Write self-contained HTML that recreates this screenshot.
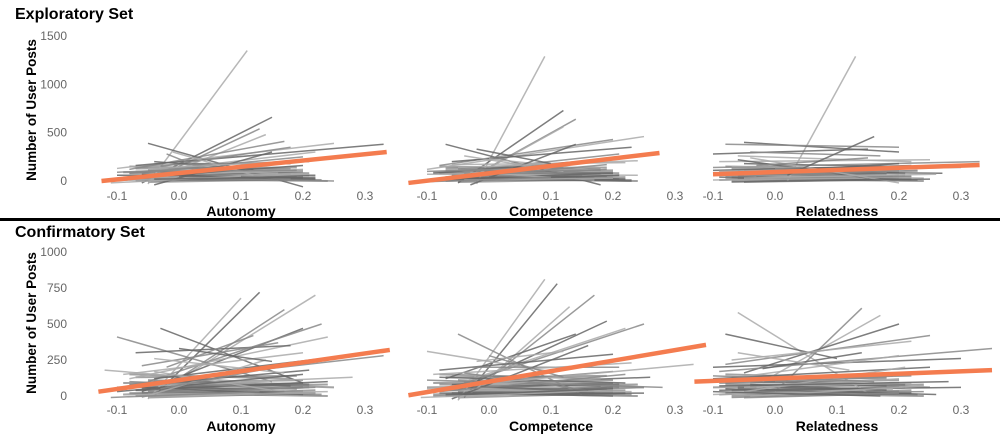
<!DOCTYPE html>
<html><head><meta charset="utf-8"><style>
body{margin:0;background:#fff;}
svg{display:block;font-family:"Liberation Sans",sans-serif;}
.tick{font-size:12px;fill:#666;text-anchor:middle;}
.ttl{font-size:14px;font-weight:bold;fill:#000;text-anchor:middle;}
.set{font-size:16px;font-weight:bold;fill:#000;}
.ytl{font-size:13.5px;font-weight:bold;fill:#000;text-anchor:middle;}
</style></head><body>
<svg id="chart" width="1000" height="440">
<text class="set" x="15" y="19">Exploratory Set</text>
<text class="set" x="15" y="237">Confirmatory Set</text>
<rect x="0" y="218" width="1000" height="3" fill="#000"></rect>
<text class="ytl" transform="translate(36,110) rotate(-90)">Number of User Posts</text>
<text class="ytl" transform="translate(36,323) rotate(-90)">Number of User Posts</text>
<g id="marks"></g>
</svg>
<script>
const xTicks=[-0.1,0.0,0.1,0.2,0.3];
const xTickLabels=["-0.1","0.0","0.1","0.2","0.3"];
const topYTicks=[0,500,1000,1500];
const botYTicks=[0,250,500,750,1000];
const panelTitles=["Autonomy","Competence","Relatedness"];
const fitTop=[[-0.125,0,0.335,300],[-0.13,-20,0.275,290],[-0.1,70,0.33,165]];
const fitBot=[[-0.13,30,0.34,320],[-0.13,5,0.35,355],[-0.13,100,0.35,180]];
const segTop1=[[-0.05,-30,0.11,1350],[-0.06,-20,0.15,660],[-0.05,0,0.13,540],[-0.04,20,0.14,480],[-0.05,390,0.2,-60],[-0.08,120,0.17,410],[-0.1,130,0.25,390],[-0.07,160,0.33,380],[-0.03,150,0.18,350],[-0.05,100,0.22,300],[0,180,0.18,180],[-0.08,80,0.2,250],[-0.06,50,0.2,120],[-0.1,60,0.22,60],[-0.09,40,0.25,0],[-0.05,120,0.16,80],[-0.04,200,0.12,120],[-0.02,280,0.05,100],[-0.07,30,0.2,80],[-0.06,70,0.15,40],[-0.03,90,0.18,20],[-0.08,10,0.21,70],[-0.02,60,0.2,160],[-0.06,160,0.21,200],[-0.01,300,0.12,60],[-0.04,-40,0.15,300],[-0.1,90,0.1,150],[-0.05,130,0.23,220],[0,50,0.22,30],[-0.07,100,0.19,110],[-0.11,-20,0.1,50],[-0.04,20,0.2,40]];
const segTop2=[[-0.02,-30,0.09,1290],[-0.05,-20,0.12,730],[-0.04,0,0.14,640],[-0.03,30,0.12,560],[-0.07,380,0.18,-40],[-0.08,160,0.2,430],[-0.1,120,0.25,460],[-0.06,200,0.23,350],[-0.05,100,0.21,280],[0,230,0.16,120],[-0.09,80,0.2,230],[-0.06,40,0.19,120],[-0.1,70,0.24,60],[-0.08,30,0.23,0],[-0.05,130,0.15,60],[-0.04,260,0.12,100],[-0.07,20,0.2,80],[-0.06,60,0.14,30],[-0.03,90,0.17,10],[-0.09,0,0.21,60],[-0.02,50,0.19,170],[-0.06,170,0.22,190],[-0.03,-40,0.14,380],[-0.1,100,0.12,140],[-0.05,140,0.24,210],[0,40,0.21,20],[-0.07,110,0.18,110],[-0.04,10,0.2,30],[-0.02,330,0.1,180],[-0.11,-10,0.1,40]];
const segTop3=[[0.02,0,0.13,1290],[-0.05,400,0.2,300],[-0.08,380,0.2,350],[-0.06,260,0.22,200],[-0.1,280,0.15,330],[-0.04,300,0.17,260],[-0.09,200,0.25,220],[-0.05,180,0.2,150],[-0.1,140,0.33,200],[-0.07,120,0.23,100],[-0.06,100,0.27,80],[-0.08,80,0.2,60],[-0.05,60,0.24,30],[-0.09,40,0.18,10],[-0.04,20,0.22,50],[-0.1,10,0.15,30],[-0.06,220,0.16,20],[-0.03,70,0.21,140],[-0.07,150,0.19,120],[-0.02,90,0.2,180],[-0.08,50,0.23,110],[-0.05,30,0.26,70],[-0.1,110,0.22,160],[0,130,0.18,90],[-0.04,240,0.2,-20],[-0.07,-10,0.25,20],[-0.03,160,0.15,240],[-0.09,100,0.3,140],[0.02,60,0.16,460]];
const segBot1=[[-0.05,-20,0.1,680],[-0.04,0,0.13,720],[-0.03,40,0.17,600],[-0.02,60,0.22,700],[-0.06,30,0.2,470],[-0.05,100,0.23,500],[-0.08,120,0.24,410],[-0.03,470,0.2,90],[-0.1,410,0.15,100],[-0.12,180,0.1,100],[-0.07,300,0.18,350],[-0.06,210,0.16,370],[-0.09,150,0.2,300],[-0.04,120,0.25,270],[-0.08,80,0.33,280],[-0.1,60,0.28,130],[-0.07,40,0.24,100],[-0.05,20,0.22,60],[-0.09,10,0.24,30],[-0.06,60,0.2,10],[-0.08,100,0.19,50],[-0.04,170,0.15,40],[-0.1,30,0.2,150],[-0.02,200,0.12,420],[-0.06,-10,0.14,250],[-0.05,80,0.21,180],[-0.03,50,0.18,220],[-0.07,0,0.22,20],[0,330,0.15,240],[-0.11,-10,0.13,30],[-0.04,260,0.17,160]];
const segBot2=[[-0.05,-30,0.09,810],[-0.04,-10,0.11,780],[-0.03,20,0.17,700],[-0.02,50,0.13,620],[-0.05,40,0.19,520],[-0.06,60,0.25,500],[-0.04,100,0.22,470],[-0.07,120,0.14,430],[-0.05,430,0.15,10],[-0.1,310,0.1,170],[-0.08,180,0.2,290],[-0.03,200,0.21,200],[-0.09,150,0.23,230],[-0.06,80,0.26,130],[-0.1,110,0.28,60],[-0.07,40,0.23,30],[-0.05,20,0.2,0],[-0.09,0,0.25,60],[-0.06,70,0.18,120],[-0.08,130,0.22,90],[-0.04,160,0.16,40],[-0.02,240,0.12,310],[-0.06,-20,0.16,350],[-0.03,90,0.2,170],[-0.1,50,0.33,220],[-0.07,10,0.25,20],[0,280,0.12,130],[-0.11,-10,0.14,30],[-0.04,10,0.2,50],[-0.08,30,0.22,150]];
const segBot3=[[-0.06,580,0.15,20],[-0.08,430,0.1,260],[0.0,30,0.14,610],[-0.02,100,0.17,560],[-0.05,160,0.2,500],[-0.08,220,0.25,420],[-0.07,250,0.22,380],[-0.1,200,0.3,260],[-0.09,170,0.35,330],[-0.06,130,0.2,280],[-0.1,120,0.25,200],[-0.08,90,0.27,170],[-0.05,60,0.22,90],[-0.09,40,0.3,60],[-0.07,20,0.24,30],[-0.1,10,0.19,50],[-0.04,80,0.18,40],[-0.06,110,0.22,140],[-0.03,60,0.2,120],[-0.08,50,0.26,10],[-0.1,140,0.16,100],[-0.05,30,0.21,200],[-0.02,190,0.14,300],[-0.07,-10,0.2,20],[-0.04,0,0.24,70],[-0.09,70,0.28,100],[0,100,0.18,130],[-0.06,300,0.12,180],[-0.1,30,0.17,0]];
const flatTop=[[-0.08,20,0.2,30],[-0.07,40,0.22,20],[-0.06,60,0.19,50],[-0.09,10,0.21,60],[-0.05,30,0.23,10],[-0.08,80,0.18,70],[-0.06,50,0.2,90],[-0.07,0,0.22,40],[-0.04,70,0.17,30],[-0.09,90,0.2,110],[-0.05,110,0.21,80],[-0.07,130,0.19,140],[-0.06,20,0.24,0],[-0.08,150,0.18,120],[-0.03,40,0.2,60],[-0.05,-10,0.22,20]];
const flatBot=[[-0.08,20,0.2,30],[-0.07,40,0.22,20],[-0.06,60,0.19,50],[-0.09,10,0.21,60],[-0.05,30,0.23,10],[-0.08,80,0.18,70],[-0.06,50,0.2,90],[-0.07,0,0.22,40],[-0.04,70,0.17,30],[-0.09,90,0.2,110],[-0.05,110,0.21,80],[-0.07,130,0.19,140],[-0.06,20,0.24,0],[-0.08,150,0.18,120],[-0.03,40,0.2,60],[-0.05,-10,0.22,20],[-0.1,60,0.24,80],[-0.04,100,0.25,60]];

const svg=document.getElementById('marks');
const NS='http://www.w3.org/2000/svg';
const panelX0=[117,427,713];
const xPerUnit=620;
function xScale(p,v){return panelX0[p]+(v+0.1)*xPerUnit;}
function yTop(v){return 181-v*0.0966;}
function yBot(v){return 396-v*0.144;}
function mk(tag,attrs){const e=document.createElementNS(NS,tag);for(const k in attrs)e.setAttribute(k,attrs[k]);svg.appendChild(e);return e;}

const rows=[{segs:[segTop1,segTop2,segTop3],flat:flatTop,fit:fitTop,ys:yTop,ticks:topYTicks,tickY:200,titleY:216},
            {segs:[segBot1,segBot2,segBot3],flat:flatBot,fit:fitBot,ys:yBot,ticks:botYTicks,tickY:414,titleY:431}];
rows.forEach(r=>{
  r.ticks.forEach(t=>{
    const e=mk('text',{class:'tick',x:67,y:r.ys(t)+4});
    e.style.textAnchor='end';
    e.textContent=t;
    
    
  });
  for(let p=0;p<3;p++){
    xTicks.forEach((t,i)=>{
      const e=mk('text',{class:'tick',x:xScale(p,t),y:r.tickY});
      e.textContent=xTickLabels[i];
      
      
    });
    const tt=mk('text',{class:'ttl',x:xScale(p,0.1),y:r.titleY});
    tt.textContent=panelTitles[p];
    
    
    r.flat.forEach((s,i)=>{
      const l=mk('line',{x1:xScale(p,s[0]),y1:r.ys(s[1]),x2:xScale(p,s[2]),y2:r.ys(s[3]),stroke:'#666','stroke-width':2,'stroke-opacity':0.6});
      
      
    });
    r.segs[p].forEach((s,i)=>{
      const l=mk('line',{x1:xScale(p,s[0]),y1:r.ys(s[1]),x2:xScale(p,s[2]),y2:r.ys(s[3]),stroke:(i%3==0)?'#aaa':(i%3==1?'#666':'#888'),'stroke-width':1.5,'stroke-opacity':0.85});
      
      
    });
    const f=r.fit[p];
    const fl=mk('line',{x1:xScale(p,f[0]),y1:r.ys(f[1]),x2:xScale(p,f[2]),y2:r.ys(f[3]),stroke:'#f47c4f','stroke-width':4.5});
    
    
  }
});
</script>
</body></html>
